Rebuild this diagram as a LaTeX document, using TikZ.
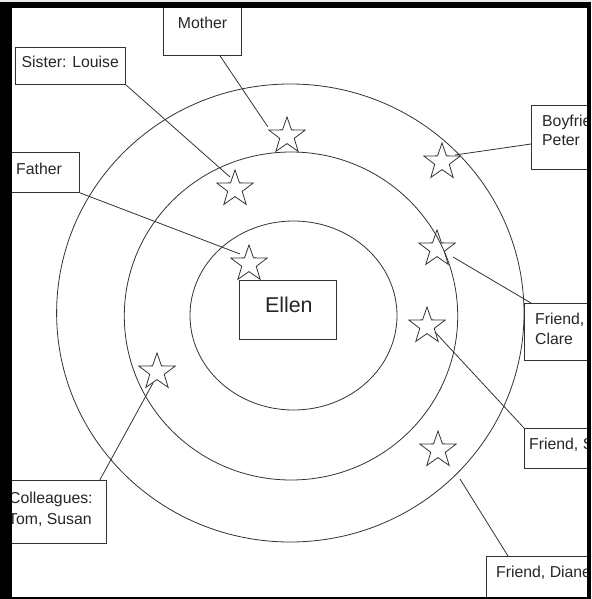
\documentclass[tikz,border=0pt]{standalone}
\usepackage{fontspec}
\setmainfont{Liberation Sans}
\usetikzlibrary{shapes.geometric,calc}
\begin{document}
\begin{tikzpicture}[x=1pt,y=-1pt,
  ln/.style={draw=black!80, line width=0.8pt},
  boxst/.style={draw=black!80, line width=0.8pt, fill=white, inner sep=0pt, rectangle},
  lbl/.style={inner sep=0pt, text=black!85, font=\fontsize{15.8}{19}\selectfont},
  starst/.style={star, star points=5, star point ratio=2.5, minimum size=38pt, inner sep=0pt, draw=black!80, line width=0.8pt}]
\useasboundingbox (0,0) rectangle (591,599);
\fill[white] (0,0) rectangle (591,599);
\begin{scope}
\clip (12,8) rectangle (587,597);
% rings
\draw[ln] (290.3,313) ellipse [x radius=233.7pt, y radius=229pt];
\draw[ln] (291,316) ellipse [x radius=166.7pt, y radius=164pt];
\draw[ln] (293.5,315.5) ellipse [x radius=103.5pt, y radius=94.5pt];
% centre
\node[boxst, minimum width=97pt, minimum height=59pt, anchor=north west] (ellen) at (239,280) {};
\node[lbl, anchor=base, font=\fontsize{21.4}{25}\selectfont] (tellen) at (288.8,312) {Ellen};
% label boxes
\node[boxst, minimum width=78pt, minimum height=49pt, anchor=north west] (mother) at (163,6) {};
\node[lbl, anchor=base] (tmother) at (202.5,29) {Mother};
\node[boxst, minimum width=110pt, minimum height=37pt, anchor=north west] (sister) at (15,47) {};
\node[lbl, anchor=base west] (tsister) at (21.5,68) {Sister: Louise};
\node[boxst, minimum width=75pt, minimum height=40pt, anchor=north west] (father) at (4,152) {};
\node[lbl, anchor=base west] (tfather) at (16,174) {Father};
\node[boxst, minimum width=70pt, minimum height=64pt, anchor=north west] (boy) at (531,105) {};
\node[lbl, anchor=base west] (tboy1) at (542,126) {Boyfriend,};
\node[lbl, anchor=base west] (tboy2) at (542,145) {Peter};
\node[boxst, minimum width=80pt, minimum height=57pt, anchor=north west] (clare) at (524,303) {};
\node[lbl, anchor=base west] (tclare1) at (535,324) {Friend,};
\node[lbl, anchor=base west] (tclare2) at (535,344) {Clare};
\node[boxst, minimum width=80pt, minimum height=40pt, anchor=north west] (friends) at (524,428) {};
\node[lbl, anchor=base west] (tfriends) at (529,449) {Friend, S};
\node[boxst, minimum width=120pt, minimum height=50pt, anchor=north west] (diane) at (486,556) {};
\node[lbl, anchor=base west] (tdiane) at (496,577) {Friend, Diane};
\node[boxst, minimum width=116pt, minimum height=63pt, anchor=north west] (coll) at (-10,480) {};
\node[lbl, anchor=base west] (tcoll1) at (9,503) {Colleagues:};
\node[lbl, anchor=base west] (tcoll2) at (8,524) {Tom, Susan};
% stars
\node[starst] (smother) at (287,136) {};
\node[starst] (ssister) at (235,189) {};
\node[starst] (sfather) at (249,264) {};
\node[starst] (sboy) at (442,162) {};
\node[starst] (sclare) at (437,249) {};
\node[starst] (sfriends) at (427,326) {};
\node[starst] (sdiane) at (438,450) {};
\node[starst] (scoll) at (157,372) {};
\coordinate (dianeend) at (460,479);
% connectors
\draw[ln] ($(mother.south west)+(57,0)$) -- ($(smother.outer point 2)+(0,-3)$);
\draw[ln] (sister.south east) -- ($(ssister)+(-5,-12)$);
\draw[ln] (father.south east) -- ($(sfather)+(-9,-10)$);
\draw[ln] ($(boy.north west)+(0,39)$) -- ($(sboy)+(13,-7)$);
\draw[ln] ($(clare.north west)+(7,0)$) -- ($(sclare)+(16,8)$);
\draw[ln] (friends.north west) -- ($(sfriends)+(8,6)$);
\draw[ln] ($(diane.north west)+(22,0)$) -- (dianeend);
\draw[ln] ($(coll.north east)+(-7,0)$) -- ($(scoll)+(-4,11)$);
\end{scope}
% frame
\fill[black!8] (0,0) rectangle (591,2);
\fill[black] (0,2) rectangle (591,8);
\fill[black] (0,2) rectangle (12,599);
\fill[black] (587,2) rectangle (591,599);
\fill[black] (0,597) rectangle (591,599);
\end{tikzpicture}
\end{document}
